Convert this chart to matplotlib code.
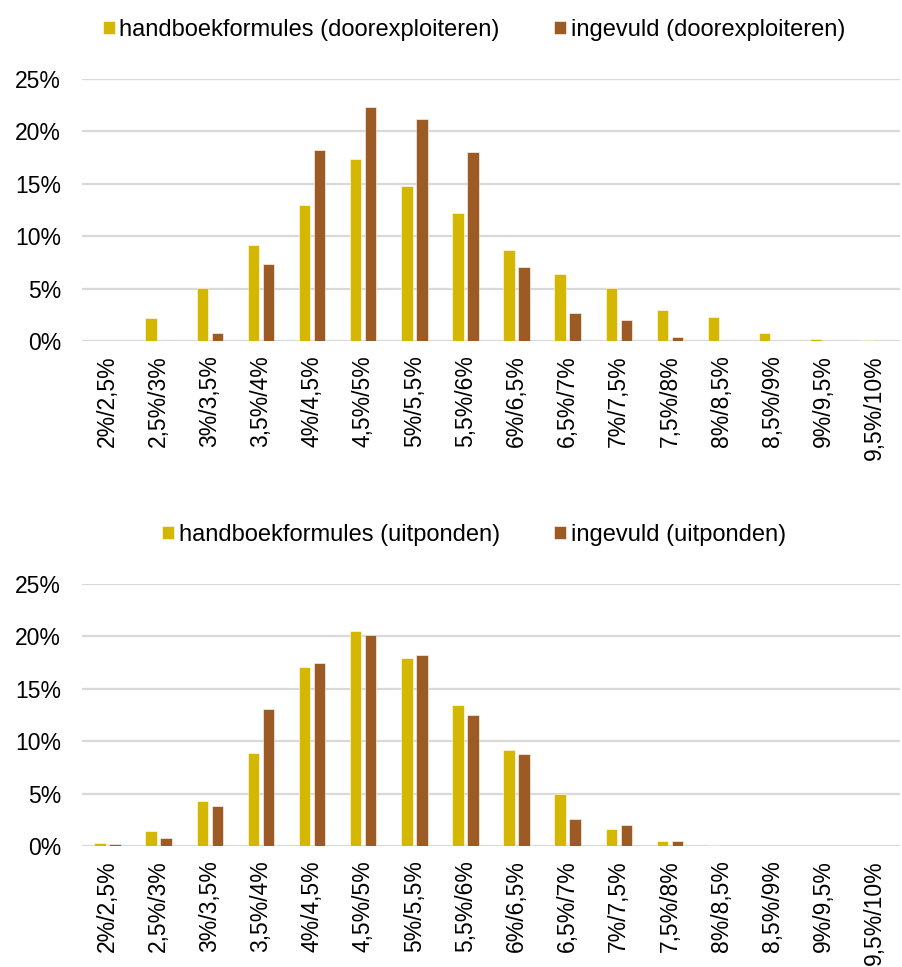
import matplotlib
matplotlib.use("Agg")
import matplotlib.pyplot as plt
import numpy as np
from matplotlib.ticker import FuncFormatter

plt.rcParams['font.family'] = ['Liberation Sans', 'DejaVu Sans']

categories = ["2%/2,5%", "2,5%/3%", "3%/3,5%", "3,5%/4%", "4%/4,5%", "4,5%/5%",
              "5%/5,5%", "5,5%/6%", "6%/6,5%", "6,5%/7%", "7%/7,5%", "7,5%/8%",
              "8%/8,5%", "8,5%/9%", "9%/9,5%", "9,5%/10%"]

# doorexploiteren (%)
handboek_door = [0.0, 2.2, 5.05, 9.15, 13.0, 17.4, 14.8, 12.2, 8.7, 6.4, 5.05, 3.0,
                 2.3, 0.8, 0.15, 0.1]
ingevuld_door = [0.0, 0.05, 0.75, 7.35, 18.2, 22.3, 21.2, 18.0, 7.05, 2.7, 2.0, 0.4,
                 0.05, 0.0, 0.0, 0.0]

# uitponden (%)
handboek_uit = [0.25, 1.4, 4.3, 8.9, 17.1, 20.5, 17.9, 13.5, 9.2, 5.0, 1.6, 0.5,
                0.05, 0.0, 0.0, 0.0]
ingevuld_uit = [0.2, 0.8, 3.8, 13.1, 17.5, 20.1, 18.2, 12.5, 8.75, 2.6, 2.0, 0.5,
                0.0, 0.0, 0.0, 0.0]

yticks = [0, 5, 10, 15, 20, 25]

YELLOW = "#D4B700"
BROWN = "#9C5A25"
GRID = "#D9D9D9"

W, H = 902, 967
fig = plt.figure(figsize=(W / 100, H / 100), dpi=100)


def panel(top_px, bottom_px, s1, s2, lab1, lab2, legend_y_px, colspace):
    ax = fig.add_axes([82 / W, 1 - bottom_px / H, (900 - 82) / W, (bottom_px - top_px) / H])
    x = np.arange(len(categories))
    bw = 0.225
    off = 0.147
    ax.bar(x - off, s1, width=bw, color=YELLOW, edgecolor="white", linewidth=0.4,
           label=lab1, zorder=3)
    ax.bar(x + off, s2, width=bw, color=BROWN, edgecolor="white", linewidth=0.4,
           label=lab2, zorder=3)
    ax.set_xlim(-0.5, len(categories) - 0.5)
    ax.set_ylim(0, 25)
    ax.set_yticks(yticks)
    ax.yaxis.set_major_formatter(FuncFormatter(lambda v, p: f"{v:.0f}%"))
    ax.set_xticks(x)
    ax.set_xticklabels(categories, rotation=90, va="top", ha="center")
    ax.tick_params(axis="both", length=0, labelsize=16.5, colors="black")
    ax.tick_params(axis="x", pad=10)
    ax.tick_params(axis="y", pad=15)
    ax.grid(axis="y", color=GRID, linewidth=1.6, zorder=0)
    for s in ax.spines.values():
        s.set_visible(False)
    handles, labels = ax.get_legend_handles_labels()
    fig.legend(handles, labels, loc="center", bbox_to_anchor=(474 / W, 1 - legend_y_px / H),
               ncol=2, frameon=False, fontsize=17, handlelength=0.5,
               handleheight=0.5, handletextpad=0.2, columnspacing=colspace)
    return ax


panel(79, 341, handboek_door, ingevuld_door,
      "handboekformules (doorexploiteren)", "ingevuld (doorexploiteren)", 30, 2.3)
panel(584, 846, handboek_uit, ingevuld_uit,
      "handboekformules (uitponden)", "ingevuld (uitponden)", 535, 2.3)

fig.savefig("out.png", dpi=100)
